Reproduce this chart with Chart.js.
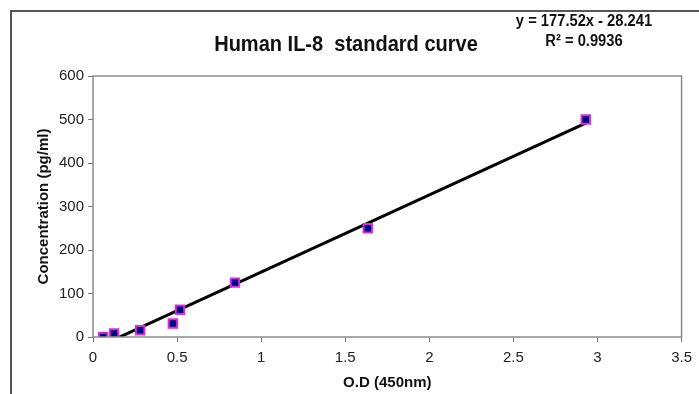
<!DOCTYPE html>
<html>
<head>
<meta charset="utf-8">
<script src="https://cdn.jsdelivr.net/npm/chart.js@4"></script>
<style>
  html, body { margin: 0; padding: 0; background: #fff; }
  #wrap { width: 699px; height: 394px; position: relative; }
</style>
</head>
<body>
<div id="wrap"><canvas id="chart" width="699" height="394"></canvas></div>
<script>
// standard curve readings (O.D at 450nm vs pg/ml)
const odValues = [0.06, 0.125, 0.28, 0.475, 0.517, 0.844, 1.634, 2.93]
const concValues = [0, 7.8, 15.6, 31.25, 62.5, 125, 250, 500]
const slope = 177.52
const intercept = -28.241
const rSquared = 0.9936
const chartTitle = "Human IL-8  standard curve"
const xTitle = "O.D (450nm)"
const yTitle = "Concentration (pg/ml)"

points = odValues.map((x, i) => ({x: x, y: concValues[i]}))
xMin = Math.min(...odValues)
xMax = Math.max(...odValues)
trend = [xMin, xMax].map(x => ({x: x, y: slope * x + intercept}))

// draws text squeezed to look like a narrow font
function narrowText(ctx, text, x, y, squeeze) {
  ctx.save()
  ctx.translate(x, y)
  ctx.scale(squeeze, 1)
  ctx.fillText(text, 0, 0)
  ctx.restore()
}

const extras = {
  id: "extras",
  afterDraw(chart) {
    const ctx = chart.ctx
    const a = chart.chartArea
    ctx.save()
    // outer frame
    ctx.strokeStyle = "#555"
    ctx.lineWidth = 2
    ctx.beginPath()
    ctx.moveTo(11, 400)
    ctx.lineTo(11, 11)
    ctx.lineTo(705, 11)
    ctx.stroke()
    // plot area box
    ctx.strokeStyle = "#8a8a8a"
    ctx.lineWidth = 1.5
    ctx.strokeRect(a.left, a.top, a.right - a.left, a.bottom - a.top)
    // title
    ctx.fillStyle = "#111"
    ctx.textAlign = "center"
    ctx.textBaseline = "middle"
    ctx.font = "bold 22px 'Liberation Sans', Arial, sans-serif"
    narrowText(ctx, chartTitle, 346, 45, 0.91)
    // trendline equation
    ctx.font = "bold 16px 'Liberation Sans', Arial, sans-serif"
    narrowText(ctx, "y = " + slope + "x - " + Math.abs(intercept), 584, 22, 0.92)
    narrowText(ctx, "R\u00b2 = " + rSquared, 584, 42, 0.92)
    ctx.restore()
  }
}

new Chart(document.getElementById("chart"), {
  type: "scatter",
  data: {
    datasets: [
      {
        label: "Standards",
        data: points,
        pointStyle: "rect",
        pointRadius: 6,
        pointHoverRadius: 6,
        backgroundColor: "#000080",
        borderColor: "#cc33dd",
        borderWidth: 2,
        order: 1
      },
      {
        label: "Linear",
        type: "line",
        data: trend,
        borderColor: "#000",
        borderWidth: 3,
        pointRadius: 0,
        fill: false,
        order: 2
      }
    ]
  },
  options: {
    responsive: false,
    animation: false,
    layout: { padding: { top: 76, left: 35, right: 14, bottom: 2 } },
    plugins: {
      legend: { display: false },
      tooltip: { enabled: false },
      title: { display: false }
    },
    scales: {
      x: {
        type: "linear",
        min: 0,
        max: 3.5,
        ticks: {
          stepSize: 0.5, color: "#222", padding: 7,
          font: { family: "'Liberation Sans', Arial, sans-serif", size: 15 },
          callback: v => String(v)
        },
        grid: { display: true, drawOnChartArea: false, tickLength: 5, color: "#777" },
        border: { display: false },
        title: { display: true, text: xTitle, color: "#111", font: { family: "'Liberation Sans', Arial, sans-serif", size: 15, weight: "bold" }, padding: { top: 0, bottom: 0 } }
      },
      y: {
        min: 0,
        max: 600,
        ticks: { stepSize: 100, color: "#222", font: { family: "'Liberation Sans', Arial, sans-serif", size: 15 }, padding: 4 },
        grid: { display: true, drawOnChartArea: false, tickLength: 5, color: "#777" },
        border: { display: false },
        title: { display: true, text: yTitle, color: "#111", font: { family: "'Liberation Sans', Arial, sans-serif", size: 15, weight: "bold" }, padding: { top: 0, bottom: 2 } }
      }
    }
  },
  plugins: [extras]
})
</script>
</body>
</html>
